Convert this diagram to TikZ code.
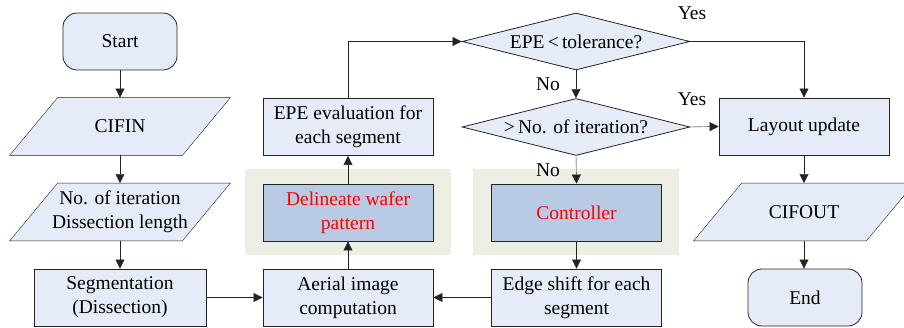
\documentclass[tikz,border=0pt]{standalone}
\usepackage{fontspec}
\setmainfont{Liberation Serif}
\usetikzlibrary{shapes.geometric,arrows.meta,calc}
\pgfdeclarelayer{bg}
\pgfsetlayers{bg,main}
\definecolor{boxfill}{RGB}{230,236,247}
\definecolor{hifill}{RGB}{184,202,228}
\definecolor{shadefill}{RGB}{238,239,228}
\definecolor{edgecol}{RGB}{35,35,35}
\begin{document}
\begin{tikzpicture}[x=1pt,y=-1pt,
  font=\fontsize{19.5}{24}\selectfont,
  line width=0.8pt,
  arr/.style={draw=edgecol,-{Triangle[length=9pt,width=9pt]}},
  box/.style={draw=edgecol,fill=boxfill,minimum width=170pt,minimum height=57pt,inner sep=0pt,align=center},
  hibox/.style={box,fill=hifill,text=red},
  term/.style={box,minimum width=114pt,rounded corners=14pt},
  para/.style={minimum width=172pt,minimum height=57pt,inner sep=0pt,align=center},
  paradraw/.style={draw=edgecol,fill=boxfill},
  dec/.style={draw=edgecol,fill=boxfill,shape=diamond,aspect=4,minimum width=228pt,minimum height=57pt,inner sep=0pt},
  shadebox/.style={fill=shadefill,minimum width=206pt,minimum height=86pt,inner sep=0pt},
  lab/.style={inner sep=0pt}]
\useasboundingbox (0,0) rectangle (904,328);
\clip (0,0) rectangle (904,328);

% nodes
\node[term] (start) at (120,41.5) {Start};
\node[para] (cifin) at (120,126.5) {CIFIN};
\node[para] (noit) at (120,212) {No. of iteration\\Dissection length};
\node[box,minimum width=172pt] (seg) at (120,297.5) {Segmentation\\(Dissection)};

\node[box] (aerial) at (348,297.5) {Aerial image\\computation};
\node[hibox] (delin) at (348,212.5) {Delineate wafer\\pattern};
\node[box] (epe) at (348,127) {EPE evaluation for\\each segment};

\node[dec] (d1) at (576,41.5) {EPE\,<\,tolerance?};
\node[dec] (d2) at (576,127) {>\,No. of iteration?};
\node[hibox] (ctrl) at (576.5,212.5) {Controller};
\node[box] (edge) at (576.5,297.5) {Edge shift for each\\segment};

\node[box] (layout) at (804,126.5) {Layout update};
\node[para] (cifout) at (804,212) {CIFOUT};
\node[term] (end) at (805,297.5) {End};

\node[lab] (no1) at (548,84) {No};
\node[lab] (no2) at (548,170) {No};
\node[lab] (yes1) at (692,13) {Yes};
\node[lab] (yes2) at (692,99) {Yes};

\begin{pgfonlayer}{bg}
  \node[shadebox] (sh1) at (348,212) {};
  \node[shadebox] (sh2) at (576,212) {};
  \foreach \n in {cifin,noit,cifout}
    \draw[paradraw] ($(\n.north west)+(24,0)$) -- ($(\n.north east)+(24,0)$)
      -- ($(\n.south east)+(-24,0)$) -- ($(\n.south west)+(-24,0)$) -- cycle;
\end{pgfonlayer}

% connectors
\draw[arr] (start) -- (cifin);
\draw[arr] (cifin) -- (noit);
\draw[arr] (noit) -- (seg);
\draw[arr] (seg) -- (aerial);
\draw[arr] (aerial) -- (delin);
\draw[arr] (delin) -- (epe);
\draw[arr] (epe.north) |- (d1.west);
\draw[arr] (d1.south) -- (d2.north);
\draw[arr] (d2.south) -- (ctrl.north);
\draw[arr] (ctrl) -- (edge);
\draw[arr] (edge) -- (aerial);
\draw[arr] (d1.east) -| (layout.north);
\draw[arr] (d2.east) -- (layout.west);
\draw[arr] (layout) -- (layout |- cifout.north);
\draw[arr] (layout |- cifout.south) -- (end.north -| layout);
\end{tikzpicture}
\end{document}
